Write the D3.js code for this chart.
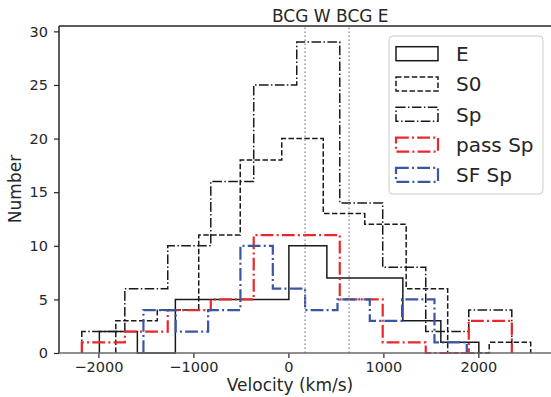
<!DOCTYPE html>
<html>
<head>
<meta charset="utf-8">
<script src="https://cdn.jsdelivr.net/npm/d3@7"></script>
<style>
  html, body { margin: 0; padding: 0; background: #fff; }
  svg { display: block; font-family: "DejaVu Sans", sans-serif; }
</style>
</head>
<body>
<svg id="chart" width="551" height="397"></svg>
<script>
// ---- data (velocities in km/s, counts per bin) ----
const eEdges   = [-1990, -1590, -1190, -790, -390, 5, 405, 805, 1205, 1605, 2005];
const eCounts  = [2, 0, 5, 5, 5, 10, 7, 7, 3, 1];
const s0Edges  = [-1817, -1380, -944, -507, -70, 367, 804, 1240, 1677, 2114, 2551];
const s0Counts = [3, 4, 11, 18, 20, 13, 12, 6, 0, 1];
const spEdges  = [-2175, -1722, -1270, -817, -365, 88, 541, 993, 1446, 1899, 2352];
const spCounts = [2, 6, 10, 16, 25, 29, 14, 8, 2, 4];
const passEdges  = [-2175, -1722, -1270, -817, -365, 88, 541, 993, 1446, 1899, 2352];
const passCounts = [1, 2, 4, 5, 11, 11, 5, 1, 0, 3];
const sfEdges  = [-1526, -1186, -845, -505, -164, 176, 517, 857, 1197, 1538, 1878];
const sfCounts = [4, 2, 4, 10, 6, 4, 5, 3, 5, 1];
const seriesNames = ["E", "S0", "Sp", "pass Sp", "SF Sp"];
const bcgNames = ["BCG W", "BCG E"];
const bcgVelocities = [176, 639];
const xTicks = [-2000, -1000, 0, 1000, 2000];
const yTicks = [0, 5, 10, 15, 20, 25, 30];

// ---- styles ----
const styles = [
  {edges: eEdges, counts: eCounts, color: "#1a1a1a", width: 1.5, dash: null},
  {edges: s0Edges, counts: s0Counts, color: "#1a1a1a", width: 1.5, dash: "5.5,2.4"},
  {edges: spEdges, counts: spCounts, color: "#1a1a1a", width: 1.5, dash: "9.6,2.4,1.5,2.4"},
  {edges: passEdges, counts: passCounts, color: "#e8282c", width: 2.2, dash: "12.8,3.2,2,3.2"},
  {edges: sfEdges, counts: sfCounts, color: "#3a55a6", width: 2.2, dash: "12.8,3.2,2,3.2"}
];

const svg = d3.select("#chart");
const mLeft = 59, mTop = 26, mBottom = 353;
const x = d3.scaleLinear().domain([-2415, 2770]).range([mLeft, 551.5]);
const y = d3.scaleLinear().domain([0, 30.5]).range([mBottom, mTop]);
const textColor = "#262626";

// histograms (step outlines)
const line = d3.line().x(d => x(d[0])).y(d => y(d[1]));
styles.forEach(s => {
  const pts = [[s.edges[0], 0]];
  s.counts.forEach((c, i) => { pts.push([s.edges[i], c]); pts.push([s.edges[i + 1], c]); });
  pts.push([s.edges[s.edges.length - 1], 0]);
  svg.append("path").attr("d", line(pts))
    .attr("fill", "none").attr("stroke", s.color)
    .attr("stroke-width", s.width)
    .attr("stroke-dasharray", s.dash)
    .attr("stroke-linejoin", "miter");
});

// BCG dotted lines
bcgVelocities.forEach(v => {
  svg.append("line").attr("x1", x(v)).attr("x2", x(v)).attr("y1", y(0)).attr("y2", mTop)
    .attr("stroke", "#9a9a9a").attr("stroke-width", 1.5).attr("stroke-dasharray", "1.5,2.5");
});

// axes
const xAxis = d3.axisBottom(x).tickValues(xTicks).tickFormat(d3.format("d")).tickSize(5).tickPadding(4);
const gx = svg.append("g").attr("transform", `translate(0,${mBottom})`).call(xAxis);
gx.select(".domain").remove();
gx.selectAll(".tick line").attr("stroke", textColor).attr("stroke-width", 1.2);
gx.selectAll(".tick text").attr("fill", textColor).attr("font-size", 14.5).attr("font-family", "DejaVu Sans");

const yAxis = d3.axisLeft(y).tickValues(yTicks).tickFormat(d3.format("d")).tickSize(5).tickPadding(6);
const gy = svg.append("g").attr("transform", `translate(${mLeft},0)`).call(yAxis);
gy.select(".domain").remove();
gy.selectAll(".tick line").attr("stroke", textColor).attr("stroke-width", 1.2);
gy.selectAll(".tick text").attr("fill", textColor).attr("font-size", 14.5).attr("font-family", "DejaVu Sans");

// spines
svg.append("line").attr("x1", mLeft).attr("x2", mLeft).attr("y1", mTop).attr("y2", mBottom)
  .attr("stroke", textColor).attr("stroke-width", 1.5);
svg.append("line").attr("x1", mLeft).attr("x2", 551).attr("y1", mTop).attr("y2", mTop)
  .attr("stroke", textColor).attr("stroke-width", 1.5);
svg.append("line").attr("x1", mLeft).attr("x2", 551).attr("y1", mBottom).attr("y2", mBottom)
  .attr("stroke", "#6a6a6a").attr("stroke-width", 1.5);

// labels
svg.append("text").attr("x", 290).attr("y", 391).attr("text-anchor", "middle")
  .attr("font-size", 17).attr("fill", textColor).text("Velocity (km/s)");
svg.append("text").attr("transform", "translate(21,189) rotate(-90)").attr("text-anchor", "middle")
  .attr("font-size", 17).attr("fill", textColor).text("Number");
svg.append("text").attr("x", 272).attr("y", 22).attr("font-size", 17)
  .attr("fill", textColor).text(bcgNames.join(" "));

// legend
const lg = svg.append("g");
lg.append("rect").attr("x", 389).attr("y", 36).attr("width", 154).attr("height", 158)
  .attr("rx", 4).attr("fill", "#fff").attr("fill-opacity", 0.8).attr("stroke", "#cccccc").attr("stroke-width", 1);
seriesNames.forEach((name, i) => {
  const cy = 53.7 + i * 30.3;
  const s = styles[i];
  lg.append("rect").attr("x", 396).attr("y", cy - 7).attr("width", 42).attr("height", 14)
    .attr("fill", "none").attr("stroke", s.color).attr("stroke-width", s.width)
    .attr("stroke-dasharray", s.dash);
  lg.append("text").attr("x", 456).attr("y", cy + 7.3).attr("font-size", 20)
    .attr("fill", textColor).text(name);
});
</script>
</body>
</html>
